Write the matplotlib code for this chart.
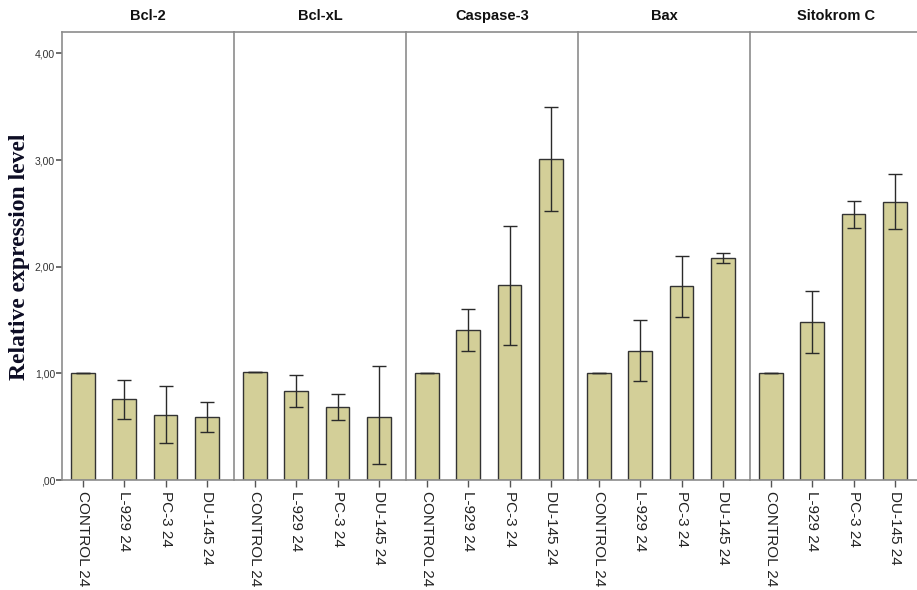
import matplotlib
matplotlib.use("Agg")
import matplotlib.pyplot as plt
import numpy as np

genes = ["Bcl-2", "Bcl-xL", "Caspase-3", "Bax", "Sitokrom C"]
groups = ["CONTROL 24", "L-929 24", "PC-3 24", "DU-145 24"]

means = {
    "Bcl-2":      [1.00, 0.76, 0.61, 0.59],
    "Bcl-xL":     [1.01, 0.83, 0.68, 0.59],
    "Caspase-3":  [1.00, 1.41, 1.83, 3.01],
    "Bax":        [1.00, 1.21, 1.82, 2.08],
    "Sitokrom C": [1.00, 1.48, 2.49, 2.61],
}
err_hi = {
    "Bcl-2":      [1.00, 0.94, 0.88, 0.73],
    "Bcl-xL":     [1.01, 0.98, 0.81, 1.07],
    "Caspase-3":  [1.00, 1.60, 2.38, 3.50],
    "Bax":        [1.00, 1.50, 2.10, 2.13],
    "Sitokrom C": [1.00, 1.77, 2.62, 2.87],
}
err_lo = {
    "Bcl-2":      [1.00, 0.57, 0.35, 0.45],
    "Bcl-xL":     [1.01, 0.68, 0.56, 0.15],
    "Caspase-3":  [1.00, 1.21, 1.27, 2.52],
    "Bax":        [1.00, 0.93, 1.53, 2.03],
    "Sitokrom C": [1.00, 1.19, 2.36, 2.35],
}
yticks = [0, 1, 2, 3, 4]
ytick_labels = [",00", "1,00", "2,00", "3,00", "4,00"]

bar_color = "#d3cf98"
frame_color = "#8c8c8c"

W, H = 917, 590
fig = plt.figure(figsize=(W / 100, H / 100), dpi=100)
left, right = 62 / W, 922 / W
bottom, top = 1 - 480 / H, 1 - 32 / H
pw = (right - left) / len(genes)

x = np.arange(len(groups))
for i, g in enumerate(genes):
    ax = fig.add_axes([left + i * pw, bottom, pw, top - bottom])
    m = np.array(means[g])
    lo = m - np.array(err_lo[g])
    hi = np.array(err_hi[g]) - m
    ax.bar(x, m, width=0.58, color=bar_color, edgecolor="#333333", linewidth=1.0, zorder=2)
    ax.errorbar(x, m, yerr=[lo, hi], fmt="none", ecolor="#2a2a2a", elinewidth=1.0,
                capsize=4.8, capthick=1.0, zorder=3)
    ax.set_xlim(-0.51, 3.66)
    ax.set_ylim(0, 4.2)
    ax.set_xticks(x)
    ax.set_xticklabels(groups, rotation=270, fontsize=11, color="#222222",
                       family="Liberation Sans")
    ax.tick_params(axis="x", length=5, width=1, color="#555555", pad=3)
    for s in ax.spines.values():
        s.set_color(frame_color)
        s.set_linewidth(1.2)
    if i == 0:
        ax.set_yticks(yticks)
        ax.set_yticklabels(ytick_labels, fontsize=7.5, color="#333333",
                           family="Liberation Sans")
        ax.tick_params(axis="y", length=4, width=1.2, color="#555555", pad=1)
    else:
        ax.set_yticks([])
    ax.spines["right"].set_visible(False)
    cx = left + (i + 0.5) * pw
    fig.text(cx, 1 - 20 / H, g, ha="center", va="baseline", fontsize=10.5,
             fontweight="bold", family="Liberation Sans", color="#111111")

fig.text(20 / W, 1 - 257 / H, "Relative expression level", rotation=90,
         ha="center", va="center", fontsize=17, fontweight="bold",
         family="Liberation Serif", color="#0d0d24")

fig.savefig("out.png", dpi=100)
